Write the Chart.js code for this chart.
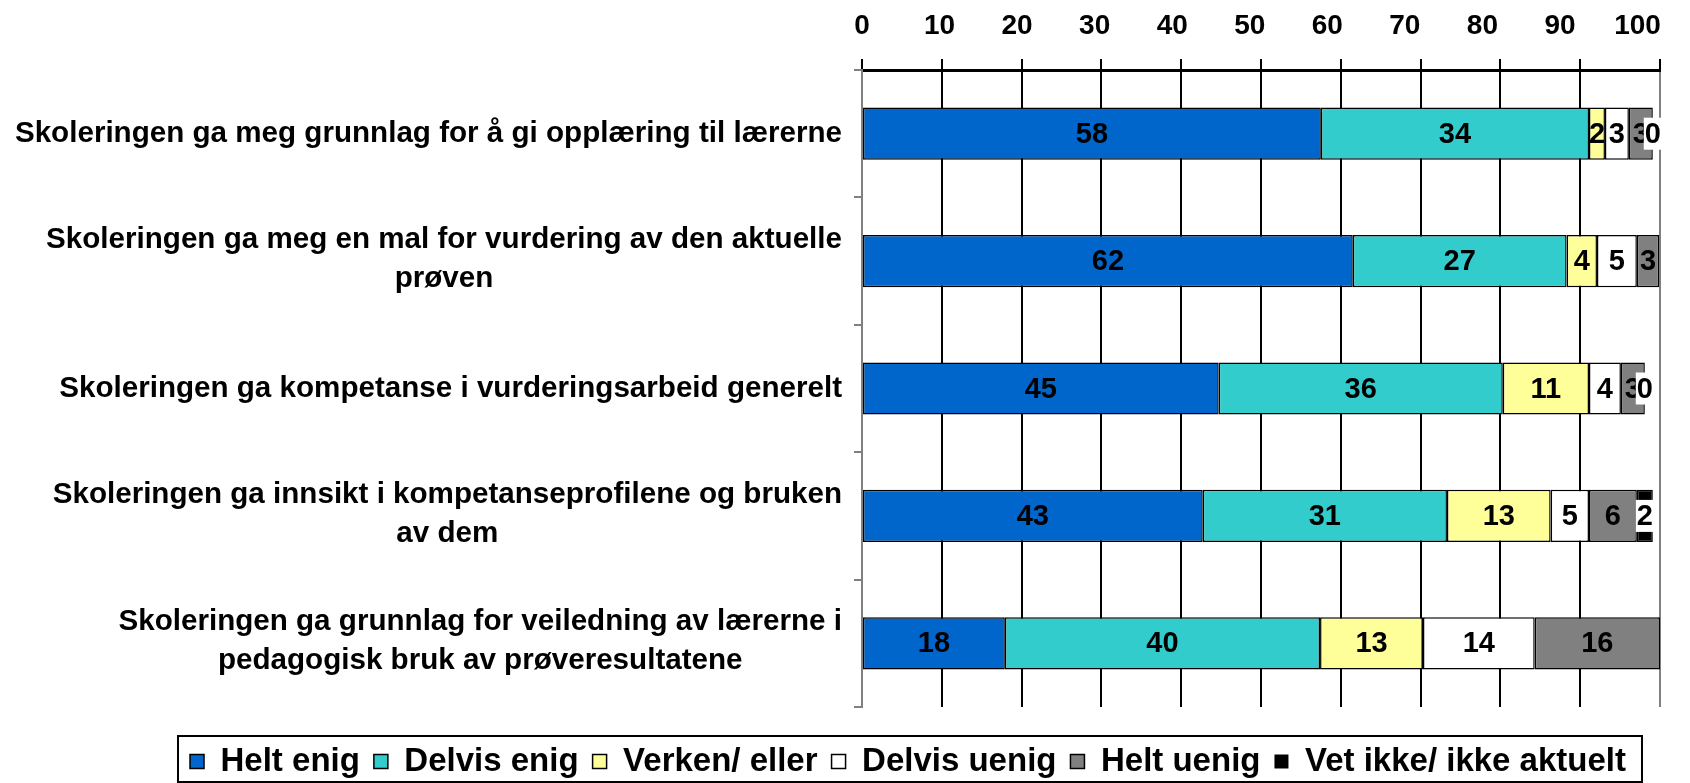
<!DOCTYPE html>
<html>
<head>
<meta charset="utf-8">
<title>Skolering</title>
<script src="https://cdn.jsdelivr.net/npm/chart.js@4.4.1/dist/chart.umd.min.js"></script>
<style>
    html, body { margin: 0; padding: 0; background: #fff; }
    #wrap { width: 1690px; height: 783px; }
</style>
</head>
<body>
<div id="wrap"><canvas id="chart" width="1690" height="783"></canvas></div>
<script>
"use strict";

// category labels, one array per bar (line breaks as in the original)
const categories = [
    ["Skoleringen ga meg grunnlag for å gi opplæring til lærerne"],
    ["Skoleringen ga meg en mal for vurdering av den aktuelle", "prøven"],
    ["Skoleringen ga kompetanse i vurderingsarbeid generelt"],
    ["Skoleringen ga innsikt i kompetanseprofilene og bruken", "av dem"],
    ["Skoleringen ga grunnlag for veiledning av lærerne i", "pedagogisk bruk av prøveresultatene"]
];

const seriesNames = ["Helt enig", "Delvis enig", "Verken/ eller", "Delvis uenig", "Helt uenig", "Vet ikke/ ikke aktuelt"];
const seriesColors = ["#0066CC", "#33CCCC", "#FFFF99", "#FFFFFF", "#808080", "#000000"];

// percentages (labels shown rounded)
const heltEnig = [57.5, 61.5, 44.7, 42.7, 17.9];
const delvisEnig = [33.6, 26.8, 35.6, 30.6, 39.5];
const verkenEller = [2.0, 3.8, 10.8, 13.0, 12.9];
const delvisUenig = [3.0, 5.0, 4.0, 4.8, 14.0];
const heltUenig = [3.0, 2.8, 3.0, 6.0, 15.7];
const vetIkke = [0, 0, 0, 2.0, 0];

const xTicks = [0, 10, 20, 30, 40, 50, 60, 70, 80, 90, 100];
// the tick labels in the original sit a little short of their gridlines
const labelAxisMax = 102.9;

const FONT = '"Liberation Sans", Arial, sans-serif';
const seriesData = [heltEnig, delvisEnig, verkenEller, delvisUenig, heltUenig, vetIkke];

const datasets = seriesData.map((values, i) => ({
    label: seriesNames[i],
    data: values,
    xAxisID: "x",
    backgroundColor: seriesColors[i],
    borderColor: "#000",
    borderWidth: ctx => (ctx.raw === 0 ? 0 : 1.5),
    borderSkipped: false,
    categoryPercentage: 1,
    barPercentage: 0.41
}));

// numbers inside the bar segments
const valueLabels = {
    id: "valueLabels",
    afterDatasetsDraw(chart) {
        const ctx = chart.ctx;
        const last = chart.data.datasets.length - 1;
        ctx.save();
        ctx.font = "bold 29px " + FONT;
        ctx.textAlign = "center";
        ctx.textBaseline = "middle";
        chart.data.datasets.forEach((ds, di) => {
            const meta = chart.getDatasetMeta(di);
            meta.data.forEach((bar, i) => {
                const v = ds.data[i];
                const total = chart.data.datasets.reduce((s, d) => s + d.data[i], 0);
                if (v === 0 && total >= 99.5) {
                    return; // falls outside the plot in the original
                }
                const txt = String(Math.round(v));
                const x = (bar.x + bar.base) / 2;
                if (di === last) {
                    const w = ctx.measureText(txt).width + 2;
                    ctx.fillStyle = "#fff";
                    ctx.fillRect(x - w / 2, bar.y - 16, w, 32);
                }
                ctx.fillStyle = "#000";
                ctx.fillText(txt, x, bar.y + 1);
            });
        });
        ctx.restore();
    }
};

// category labels: block right aligned to the axis, lines centred inside the block
const categoryLabels = {
    id: "categoryLabels",
    afterDraw(chart) {
        const ctx = chart.ctx;
        const yScale = chart.scales.y;
        const right = 842;
        const lineGap = 39;
        ctx.save();
        ctx.font = "bold 29.6px " + FONT;
        ctx.fillStyle = "#000";
        ctx.textAlign = "center";
        ctx.textBaseline = "middle";
        categories.forEach((lines, i) => {
            const cy = yScale.getPixelForTick(i);
            const blockWidth = Math.max(...lines.map(l => ctx.measureText(l).width));
            const cx = right - blockWidth / 2;
            const startY = cy - (lines.length - 1) * lineGap / 2 - (lines.length > 1 ? 1.5 : 0);
            lines.forEach((line, j) => {
                ctx.fillText(line, cx, startY + j * lineGap);
            });
        });
        ctx.restore();
    }
};

// frame round the legend
const legendFrame = {
    id: "legendFrame",
    afterDraw(chart) {
        const boxes = chart.legend.legendHitBoxes;
        if (!boxes || !boxes.length) {
            return;
        }
        const left = Math.min(...boxes.map(b => b.left)) - 12;
        const right = Math.max(...boxes.map(b => b.left + b.width)) + 16;
        const ctx = chart.ctx;
        ctx.save();
        ctx.strokeStyle = "#000";
        ctx.lineWidth = 2;
        ctx.strokeRect(left, 736, right - left, 46);
        ctx.restore();
    }
};

new Chart(document.getElementById("chart"), {
    type: "bar",
    data: {
        labels: categories.map(c => c.join(" ")),
        datasets: datasets
    },
    options: {
        indexAxis: "y",
        responsive: false,
        animation: false,
        layout: {
            padding: { left: 156, right: 30, top: 0, bottom: -5 }
        },
        scales: {
            x: {
                position: "top",
                stacked: true,
                min: 0,
                max: 100,
                weight: 1,
                afterBuildTicks(scale) {
                    scale.ticks = xTicks.map(v => ({ value: v }));
                },
                afterFit(scale) {
                    scale.height = 11;
                    scale.paddingRight = 0;
                    scale.paddingLeft = 0;
                },
                ticks: { display: false },
                grid: {
                    color: ctx => (ctx.tick && (ctx.tick.value === 0 || ctx.tick.value === 100) ? "#808080" : "#000"),
                    tickColor: "#000",
                    lineWidth: 2,
                    tickLength: 11
                },
                border: { color: "#000", width: 3 }
            },
            xLabels: {
                type: "linear",
                position: "top",
                min: 0,
                max: labelAxisMax,
                weight: 2,
                afterBuildTicks(scale) {
                    scale.ticks = xTicks.map(v => ({ value: v }));
                },
                afterFit(scale) {
                    scale.height = 59;
                    scale.paddingRight = 0;
                    scale.paddingLeft = 0;
                },
                ticks: {
                    color: "#000",
                    font: { family: FONT, size: 28, weight: "bold" },
                    padding: 16,
                    maxRotation: 0
                },
                grid: { display: false, drawTicks: false },
                border: { display: false }
            },
            y: {
                stacked: true,
                afterFit(scale) {
                    scale.width = 706;
                },
                ticks: { display: false },
                grid: {
                    drawOnChartArea: false,
                    offset: true,
                    color: "#808080",
                    lineWidth: 2,
                    tickLength: 8
                },
                border: { color: "#808080", width: 2 }
            }
        },
        plugins: {
            legend: {
                position: "bottom",
                title: {
                    display: true,
                    text: " ",
                    font: { size: 1 },
                    padding: { top: 22.8, bottom: 0 }
                },
                labels: {
                    color: "#000",
                    font: { family: FONT, size: 33, weight: "bold" },
                    boxWidth: 14,
                    boxHeight: 14,
                    padding: 14
                }
            },
            tooltip: { enabled: false }
        }
    },
    plugins: [valueLabels, categoryLabels, legendFrame]
});
</script>
</body>
</html>
